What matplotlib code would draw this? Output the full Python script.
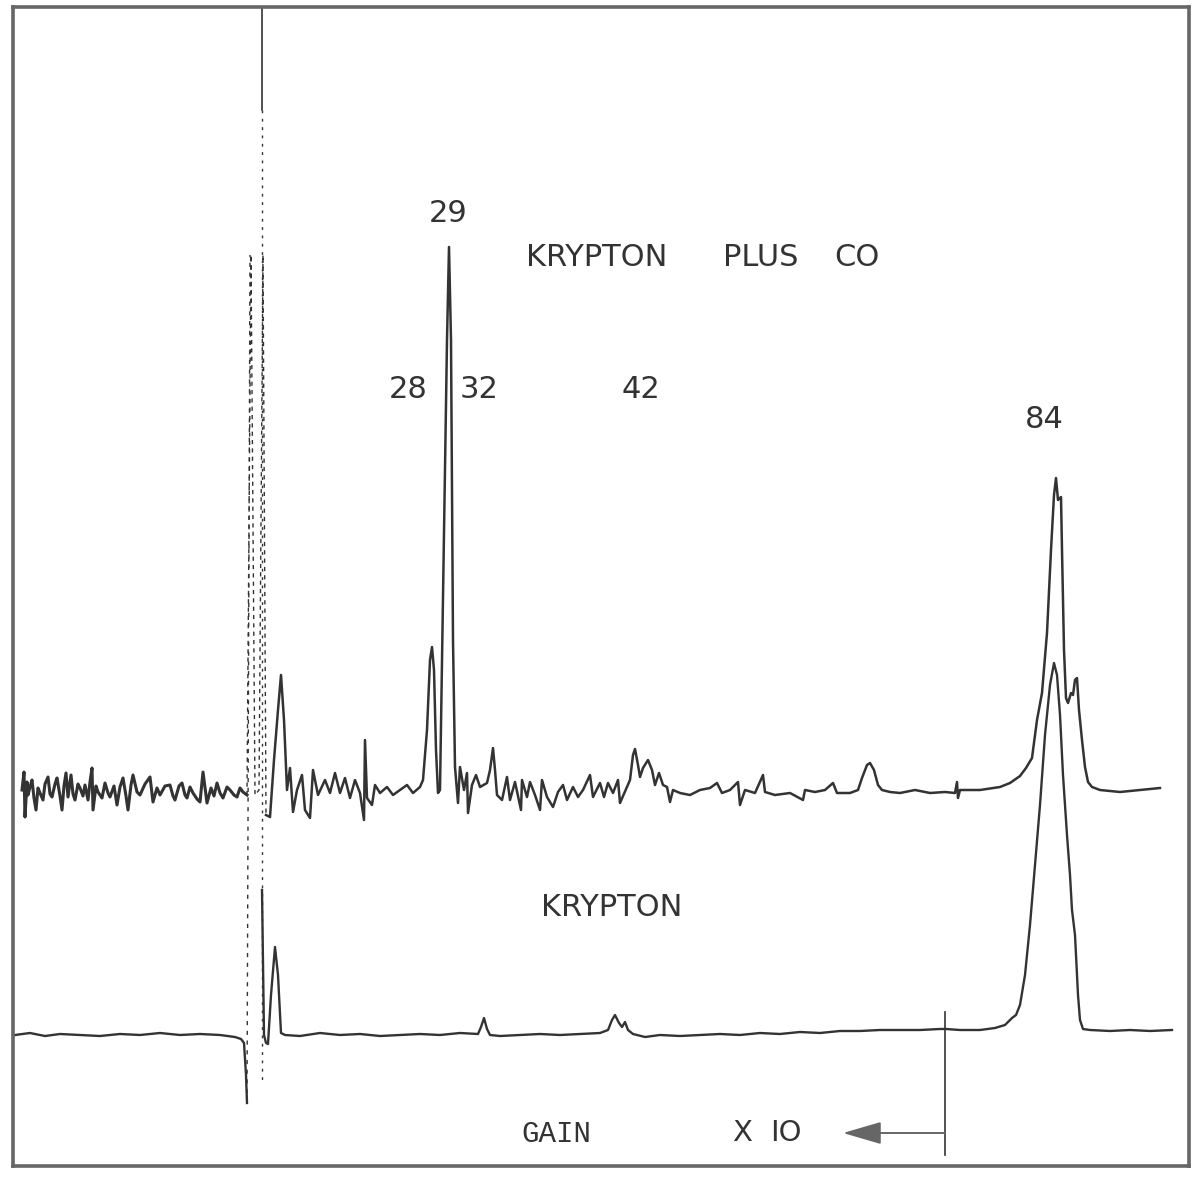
import numpy as np
import matplotlib.pyplot as plt

# chart recorder trace, scan position vs pen deflection above each baseline
TOP_BASE = 388
BOTTOM_BASE = 143

# krypton plus CO, noisy part at high gain
top_noise_x = [22, 24, 25, 27, 28, 30, 32, 34, 36, 38, 40, 43, 45, 48, 50, 52, 55, 57, 60,
               62, 64, 66, 68, 71, 73, 75, 78, 80, 83, 85, 88, 90, 92, 93, 96, 98, 102, 105,
               108, 110, 114, 117, 120, 123, 126, 128, 131, 133, 137, 140, 145, 150, 153,
               157, 160, 165, 170, 173, 175, 179, 182, 185, 187, 190, 193, 197, 200, 203,
               207, 211, 214, 217, 220, 223, 227, 230, 234, 237, 240, 243, 247]
top_noise_y = [0, 18, -27, 8, -5, 3, 10, -8, -20, 2, -3, -10, 6, 13, -4, -7, 6, 12, -6,
               -20, 4, 17, -7, 15, -4, -10, 6, 2, -6, 5, -10, 8, 22, -20, 4, -2, -8, 7,
               -3, -7, 4, -15, 3, 12, -6, -20, 5, 15, -2, -5, 6, 13, -12,
               2, -5, 4, 5, -6, -10, 4, 7, -5, -8, 3, -3, -9, -12, 18,
               -13, 2, -6, 7, -3, -8, 3, 0, -5, -7, 2, -2, -5]

# off-scale pen excursion (drawn faint)
top_spike_x = [247, 251, 255, 259, 263, 266]
top_spike_y = [-5, 535, -5, 0, 535, -25]

top_x = [266, 270, 274, 278, 281, 284, 287, 290, 293, 297, 302, 305, 310, 313, 318, 325,
         330, 335, 340, 345, 350, 355, 360, 364, 365, 367, 372, 375, 380, 387, 393, 400,
         407, 413, 420, 423, 427, 430, 432, 434, 436, 438, 440, 443, 447, 449, 451, 453,
         455, 458, 460, 464, 467, 468, 472, 476, 480, 487, 490, 493, 495, 497, 502, 507,
         510, 515, 521, 522, 527, 530, 535, 540, 542, 547, 553, 558, 563, 567, 573, 578,
         583, 590, 593, 600, 604, 608, 613, 618, 620, 627, 630, 633, 635, 638, 640, 643,
         648, 652, 655, 659, 663, 667, 670, 673, 680, 690, 700, 710, 717, 722, 730, 738,
         740, 745, 755, 763, 765, 775, 790, 803, 805, 815, 825, 833, 837, 850, 858, 862,
         867, 870, 874, 878, 882, 890, 900, 915, 930, 945, 955, 957, 958, 960, 980, 1000,
         1010, 1020, 1026, 1032, 1037, 1042, 1047, 1051, 1054, 1056, 1058, 1061, 1062,
         1064, 1066, 1068, 1071, 1073, 1075, 1077, 1079, 1082, 1085, 1088, 1092, 1100,
         1120, 1140, 1160]
top_y = [-25, -27, 30, 80, 115, 70, 0, 22, -22, 0, 15, -20, -28, 20, -5, 10,
         -3, 17, -3, 12, -8, 10, -3, -30, 50, -8, -15, 5, -3, 3, -5, 0,
         5, -3, 3, 10, 60, 130, 143, 120, 40, -3, 0, 190, 450, 543, 450, 150,
         23, -13, 23, 0, 17, -23, 5, 15, 3, 7, 20, 42, 20, -5, -10, 13,
         -10, 8, -20, 10, -7, 8, -5, -20, 10, -7, -17, -2, 5, -10, 3, -7,
         0, 15, -7, 7, -7, 7, -3, 10, -13, 3, 10, 35, 41, 25, 13, 22,
         30, 20, 5, 17, 5, 3, -12, 0, -3, -5, 0, 2, 7, -3, 0, 8,
         -15, 0, -3, 15, -2, -5, -3, -10, 0, -2, 0, 7, -3, -3, 0, 12,
         25, 27, 20, 5, 0, -2, -3, 0, -3, -2, -3, 8, -8, 0, 0, 3,
         7, 14, 22, 32, 70, 97, 157, 240, 295, 312, 290, 293, 240,
         140, 92, 87, 97, 95, 110, 112, 80, 50, 23, 8, 3, 0,
         -2, 0, 2]

# krypton alone
bottom_a_x = [15, 30, 45, 60, 80, 100, 120, 140, 160, 180, 200, 220, 235, 241, 244, 246, 247]
bottom_a_y = [0, 2, -1, 1, 0, -1, 1, 0, 2, 0, 1, 0, -2, -4, -8, -40, -68]

bottom_spike_x = [247, 250]
bottom_spike_y = [-68, 780]

bottom_x = [262, 264, 266, 268, 271, 275, 278, 281, 285, 300, 320, 340, 360, 380, 400, 420,
            440, 460, 478, 481, 484, 487, 490, 500, 520, 540, 560, 580, 600, 608, 612, 615,
            619, 622, 625, 628, 633, 645, 660, 680, 700, 720, 740, 760, 780, 800, 820, 840,
            860, 880, 900, 920, 940, 946, 960, 980, 995, 1005, 1012, 1016, 1020, 1025, 1030,
            1035, 1040, 1045, 1050, 1054, 1057, 1060, 1063, 1067, 1070, 1072, 1075, 1078,
            1080, 1083, 1090, 1110, 1130, 1150, 1172]
bottom_y = [145, 0, -8, -9, 40, 88, 60, 2, 0, -1, 2, 0, 1, -1, 0, 1,
            0, 2, 1, 8, 17, 6, 0, -1, 0, 1, 0, 1, 2, 5, 15, 20,
            12, 8, 13, 5, 1, -2, 0, -1, 0, 1, 0, 2, 1, 3, 2, 4,
            4, 5, 5, 5, 6, 6, 5, 5, 7, 10, 17, 20, 30, 60, 110,
            170, 230, 300, 350, 372, 360, 320, 260, 200, 160, 125, 100, 40,
            15, 6, 5, 4, 5, 4, 5]

labels = ["29", "28", "32", "42", "84"]
label_x = [448, 408, 479, 641, 1044]
label_y = [964, 788, 788, 788, 758]

ink = '#333333'

plt.switch_backend('AGG')
fig = plt.figure(figsize=(11.99, 11.78), dpi=100)
ax = fig.add_axes([13 / 1199, 12 / 1178, 1176 / 1199, 1159 / 1178])
ax.set_xlim(13, 1189)
ax.set_ylim(12, 1171)
ax.set_xticks([])
ax.set_yticks([])
for s in ax.spines.values():
    s.set_linewidth(2.6)
    s.set_color('#666666')

# upper trace
ax.plot(top_noise_x, TOP_BASE + np.array(top_noise_y), color=ink, lw=2.2)
ax.plot(top_spike_x, TOP_BASE + np.array(top_spike_y), color=ink, lw=1.0, ls=(0, (3, 3)))
ax.plot(top_x, TOP_BASE + np.array(top_y), color=ink, lw=1.8)

# lower trace
ax.plot(bottom_a_x, BOTTOM_BASE + np.array(bottom_a_y), color=ink, lw=1.7)
ax.plot(bottom_spike_x, BOTTOM_BASE + np.array(bottom_spike_y), color=ink, lw=1.0, ls=(0, (3, 4)))
ax.plot(bottom_x, BOTTOM_BASE + np.array(bottom_y), color=ink, lw=1.7)

# marker line from the top edge
ax.plot([262, 262], [1171, 1068], color=ink, lw=1.2)
ax.plot([262, 262], [1068, 93], color=ink, lw=1.0, ls=(0, (2, 4)))

# gain change marker and arrow
ax.plot([945, 945], [166, 23], color=ink, lw=1.2)
ax.annotate('', xy=(843, 45), xytext=(945, 45),
            arrowprops=dict(arrowstyle='-|>,head_length=2.4,head_width=0.7',
                            color='#666666', lw=1.4, shrinkA=0, shrinkB=0))

for t, x, y in zip(labels, label_x, label_y):
    ax.text(x, y, t, fontsize=22, color=ink, ha='center', va='center')

ax.text(597, 920, 'KRYPTON', fontsize=22, color=ink, ha='center', va='center')
ax.text(761, 920, 'PLUS', fontsize=22, color=ink, ha='center', va='center')
ax.text(857, 920, 'CO', fontsize=22, color=ink, ha='center', va='center')
ax.text(612, 271, 'KRYPTON', fontsize=22, color=ink, ha='center', va='center')
ax.text(556, 44, 'GAIN', fontsize=21, color=ink, ha='center', va='center',
        family='Liberation Mono')
ax.text(742, 45, 'X', fontsize=21, color=ink, ha='center', va='center')
ax.text(786, 45, 'IO', fontsize=21, color=ink, ha='center', va='center')

plt.savefig('out.png', dpi=100)
